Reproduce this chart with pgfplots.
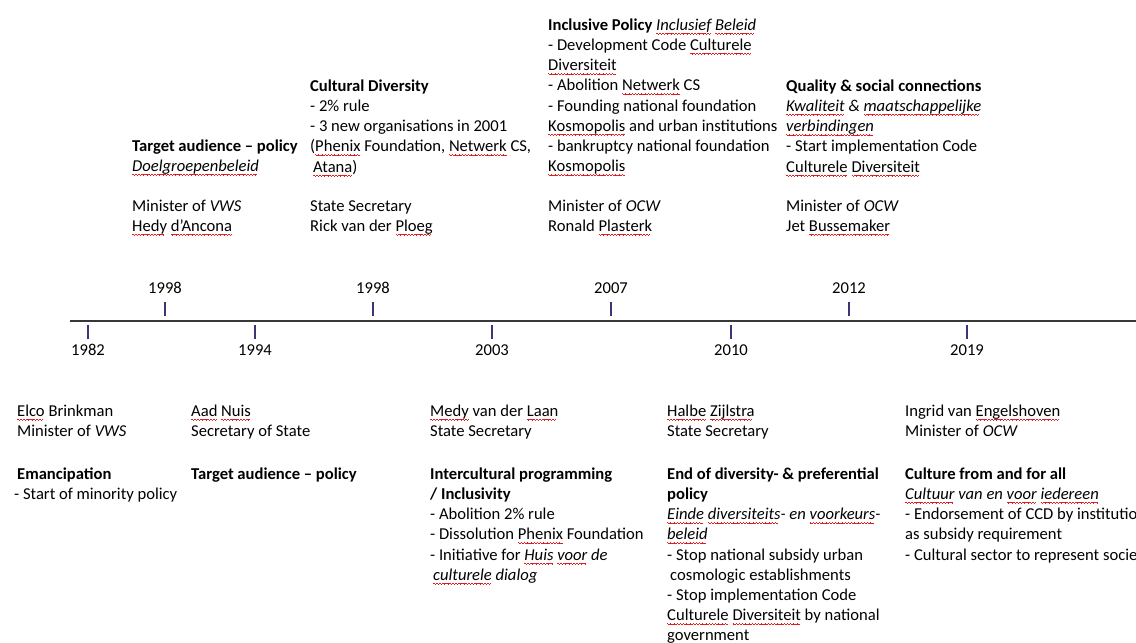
\documentclass[border=0pt]{standalone}
\usepackage{pgfplots}
\pgfplotsset{compat=1.18}
\usepackage{pgfplotstable}
\usepackage{fontspec}
\setmainfont{Carlito}
\definecolor{tickc}{RGB}{62,52,118}
\definecolor{sqred}{RGB}{225,30,30}
\newcommand\wv{\hbox{\rule[-3.2pt]{0.8pt}{0.7pt}\rule[-3.7pt]{0.8pt}{0.7pt}\rule[-4.2pt]{0.8pt}{0.7pt}\rule[-3.7pt]{0.8pt}{0.7pt}}}
\newsavebox\sqbox
\newcommand\sq[1]{\sbox\sqbox{#1}\rlap{\hbox to\wd\sqbox{\color{sqred}\leaders\wv\hfill}}\usebox\sqbox}
\tikzset{tb/.style={anchor=north west, align=left, inner sep=0pt, text=black,
    font=\fontsize{16.6}{20.2}\selectfont}}
\pgfplotstableread{
x y label
165 309 1998
373 309 1998
611 309 2007
849 309 2012
}\abovetbl
\pgfplotstableread{
x y label
88 332 1982
255 332 1994
492 332 2003
731 332 2010
967 332 2019
}\belowtbl
\begin{document}
\begin{tikzpicture}
\begin{axis}[name=ax, scale only axis, width=1136pt, height=643pt,
  xmin=0, xmax=1136, ymin=0, ymax=643, y dir=reverse,
  axis lines=none, clip=false]
\addplot[line width=1.7pt, color=black!78] coordinates {(70,321) (1136,321)};
\addplot[only marks, mark=|, mark size=7pt, mark options={line width=1.1pt, draw=tickc},
  nodes near coords, point meta=explicit symbolic,
  every node near coord/.style={anchor=center, yshift=21pt, text=black, font=\fontsize{16.6}{18}\selectfont}]
  table[x=x, y=y, meta=label] {\abovetbl};
\addplot[only marks, mark=|, mark size=7pt, mark options={line width=1.1pt, draw=tickc},
  nodes near coords, point meta=explicit symbolic,
  every node near coord/.style={anchor=center, yshift=-18pt, text=black, font=\fontsize{16.6}{18}\selectfont}]
  table[x=x, y=y, meta=label] {\belowtbl};

% top blocks
\node[tb] at (axis cs:132,139) {\rule{0pt}{12pt}\textbf{Target audience -- policy}\\\textit{\sq{Doelgroepenbeleid}}};
\node[tb] at (axis cs:132,199) {\rule{0pt}{12pt}Minister of \textit{VWS}\\\sq{Hedy} \sq{d’Ancona}};
\node[tb] at (axis cs:310,79) {\rule{0pt}{12pt}\textbf{Cultural Diversity}\\- 2\% rule\\- 3 new organisations in 2001\\(\sq{Phenix} Foundation, \sq{Netwerk} CS,\\\hspace*{3pt}\sq{Atana})};
\node[tb] at (axis cs:310,199) {\rule{0pt}{12pt}State Secretary\\Rick van der \sq{Ploeg}};
\node[tb] at (axis cs:548,18) {\rule{0pt}{12pt}\textbf{Inclusive Policy} \textit{\sq{Inclusief} \sq{Beleid}}\\- Development Code \sq{Culturele}\\\sq{Diversiteit}\\- Abolition \sq{Netwerk} CS\\- Founding national foundation\\\sq{Kosmopolis} and urban institutions\\- bankruptcy national foundation\\\sq{Kosmopolis}};
\node[tb] at (axis cs:548,199) {\rule{0pt}{12pt}Minister of \textit{OCW}\\Ronald \sq{Plasterk}};
\node[tb] at (axis cs:786,79) {\rule{0pt}{12pt}\textbf{Quality \& social connections}\\\textit{\sq{Kwaliteit} \& \sq{maatschappelijke}}\\\textit{\sq{verbindingen}}\\- Start implementation Code\\\sq{Culturele} \sq{Diversiteit}};
\node[tb] at (axis cs:786,199) {\rule{0pt}{12pt}Minister of \textit{OCW}\\Jet \sq{Bussemaker}};

% bottom blocks
\node[tb] at (axis cs:17,404) {\rule{0pt}{12pt}\sq{Elco} Brinkman\\Minister of \textit{VWS}};
\node[tb] at (axis cs:17,467) {\rule{0pt}{12pt}\textbf{Emancipation}\\\hspace*{-3pt}- Start of minority policy};
\node[tb] at (axis cs:191,404) {\rule{0pt}{12pt}\sq{Aad} \sq{Nuis}\\Secretary of State};
\node[tb] at (axis cs:191,467) {\rule{0pt}{12pt}\textbf{Target audience -- policy}};
\node[tb] at (axis cs:430,404) {\rule{0pt}{12pt}\sq{Medy} van der \sq{Laan}\\State Secretary};
\node[tb] at (axis cs:430,467) {\rule{0pt}{12pt}\textbf{Intercultural programming}\\\textbf{/ Inclusivity}\\- Abolition 2\% rule\\- Dissolution \sq{Phenix} Foundation\\- Initiative for \textit{\sq{Huis} \sq{voor} de}\\\hspace*{3pt}\textit{\sq{culturele} dialog}};
\node[tb] at (axis cs:667,404) {\rule{0pt}{12pt}\sq{Halbe} \sq{Zijlstra}\\State Secretary};
\node[tb] at (axis cs:667,467) {\rule{0pt}{12pt}\textbf{End of diversity- \& preferential}\\\textbf{policy}\\\textit{\sq{Einde} \sq{diversiteits}- en \sq{voorkeurs}-}\\\textit{\sq{beleid}}\\- Stop national subsidy urban\\\hspace*{3pt}cosmologic establishments\\- Stop implementation Code\\\sq{Culturele} \sq{Diversiteit} by national\\government};
\node[tb] at (axis cs:905,404) {\rule{0pt}{12pt}Ingrid van \sq{Engelshoven}\\Minister of \textit{OCW}};
\node[tb] at (axis cs:905,467) {\rule{0pt}{12pt}\textbf{Culture from and for all}\\\textit{\sq{Cultuur} van en \sq{voor} \sq{iedereen}}\\- Endorsement of CCD by institutions\\as subsidy requirement\\- Cultural sector to represent society};
\end{axis}
\pgfresetboundingbox
\useasboundingbox (ax.south west) rectangle (ax.north east);
\end{tikzpicture}
\end{document}
